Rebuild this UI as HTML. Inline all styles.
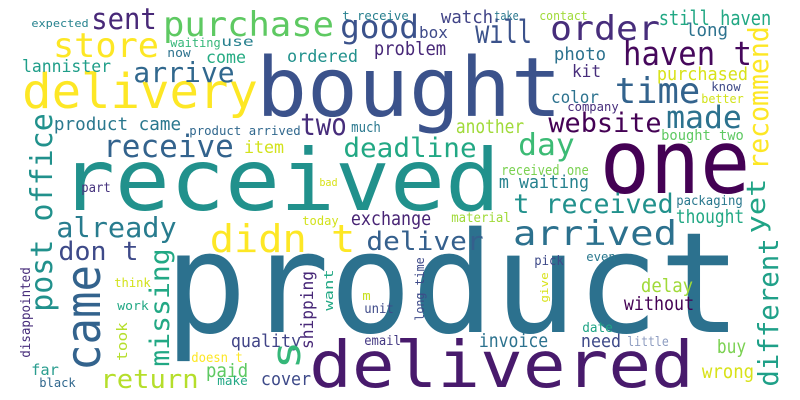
<!DOCTYPE html>
<html><head><meta charset="utf-8"><style>
html,body{margin:0;padding:0;background:#fff;}
svg{display:block;}
text{font-family:"DejaVu Sans Mono","Liberation Mono",monospace;}
</style></head><body>
<svg id="cloud" width="800" height="400" viewBox="0 0 800 400" xmlns="http://www.w3.org/2000/svg">
<rect width="800" height="400" fill="#fff"/>
</svg>
<script>
// horizontal words
const hWords = ["product","received","bought","one","delivered","delivery","purchase","store","sent","expected","waiting","use","now","come","lannister","arrive","product came","product arrived","receive","item","part","t receive","good","box","watch","take","will","problem","ordered","two","much","another","deadline","bad","day","received one","m waiting","contact","order","still haven","long","haven t","photo","kit","purchased","time","know","better","color","company","made","website","bought two","t received","packaging","arrived","thought","pick","even","delay","without","date","need","little","buy","wrong","invoice","material","exchange","deliver","already","don t","didn t","think","work","far","black","return","doesn t","paid","make","cover","quality","today","m","unit","email"];
const hX0 = [173,65,261,605,313,25,165,55,93,32,171,222,168,207,23,135,55,190,105,245,82,343,342,420,442,495,477,375,288,302,352,457,345,320,520,502,500,540,552,660,687,625,555,573,658,617,712,702,552,568,668,550,662,515,677,515,677,535,587,642,625,583,582,628,718,703,480,452,352,368,58,60,212,115,118,32,40,102,192,207,218,262,232,303,363,365,365];
const hX1 = [733,495,557,745,690,255,332,157,155,88,220,253,190,245,110,233,180,300,232,283,110,408,417,447,492,518,530,445,357,345,380,523,475,337,573,588,588,587,658,770,727,750,605,600,747,698,740,743,598,618,740,660,743,672,742,675,743,563,615,692,693,612,620,668,745,753,547,510,430,482,175,137,353,150,148,58,75,197,242,247,247,310,300,338,370,393,400];
const hBase = [332,210,116,193,387,108,36,57,29,27,47,46,57,63,72,82,130,135,157,153,192,20,38,38,23,20,43,55,62,135,132,133,157,186,155,175,188,20,40,25,36,65,60,77,80,103,91,103,103,111,128,132,140,213,205,245,223,265,261,292,310,332,347,346,353,378,347,222,225,250,237,260,252,287,310,375,387,388,362,377,385,385,347,225,300,313,345];
const hSize = [140,86,82,88,64,48,34,34,29,11,12,13,12,17,17,28,18,12,31,17,13,12,32,16,18,12,32,19,17,30,14,19,27,11,30,14,18,12,34,20,18,33,18,17,18,36,12,12,17,12,31,27,14,27,13,34,19,13,12,19,19,13,18,13,19,19,19,13,19,26,28,26,38,12,12,15,12,26,13,19,12,18,18,12,12,13,13];
const hColor = ["#2c718e","#21918c","#3b528b","#440154","#481a6c","#fde725","#5ec962","#fde725","#482878","#26828e","#35b779","#27808e","#2c728e","#25ab82","#1f9e89","#31688e","#2a788e","#31688e","#33638d","#d2e21b","#46337e","#277f8e","#3b528b","#3e4a89","#414487","#2a788e","#3b528b","#482878","#21918c","#472d7b","#2a788e","#a0da39","#22a884","#d8e219","#3cbb75","#7ad151","#26828e","#a0da39","#472d7b","#22a884","#2c728e","#46085c","#2c728e","#472d7b","#d8e219","#33638d","#3e4a89","#d2e21b","#2c728e","#472d7b","#2c728e","#440154","#5ec962","#21918c","#2a788e","#2c718e","#22a884","#3e4a89","#2a788e","#a0da39","#440154","#20a486","#3e4a89","#8d9cc0","#7ad151","#d8e219","#2c728e","#a0da39","#482475","#35608d","#287c8e","#3e4a89","#fde725","#d2e21b","#22a884","#2a9d8f","#31688e","#b5de2b","#fde725","#5ec962","#22a884","#3e4a89","#414487","#d2e21b","#c8e020","#3e4a89","#443983"];
// vertical words (read bottom to top)
const vWords = ["post office","came","disappointed","missing","took","s","shipping","want","long time","give","recommend","yet","different"];
const vBaseX = [52,100,30,169,127,300,313,333,424,548,768,765,778];
const vY0 = [310,368,357,365,360,367,348,310,320,302,168,232,385];
const vY1 = [115,268,268,250,323,343,272,270,258,273,28,180,240];
const vSize = [30,48,13,27,14,40,17,12,12,11,28,26,28];
const vColor = ["#21918c","#33638d","#472d7b","#22a884","#b5de2b","#35b779","#482878","#22a884","#3e4a89","#d8e219","#fde725","#20a486","#1fa088"];

const svg = document.getElementById('cloud');
const NS = 'http://www.w3.org/2000/svg';
function slug(s){return s.replace(/[^a-z0-9]+/gi,'-').toLowerCase();}
for (let i = 0; i < hWords.length; i++) {
  const t = document.createElementNS(NS, 'text');
  const pad = hSize[i] * 0.06;
  t.setAttribute('x', hX0[i] - pad);
  t.setAttribute('y', hBase[i]);
  t.setAttribute('font-size', hSize[i]);
  t.setAttribute('fill', hColor[i]);
  t.setAttribute('textLength', Math.max(1, hX1[i] - hX0[i] + 2 * pad));
  t.setAttribute('lengthAdjust', 'spacingAndGlyphs');
  t.textContent = hWords[i];
  
  
  svg.appendChild(t);
}
for (let i = 0; i < vWords.length; i++) {
  const t = document.createElementNS(NS, 'text');
  const pad = vSize[i] * 0.06;
  const x = vBaseX[i], y = vY0[i] + pad;
  t.setAttribute('x', x);
  t.setAttribute('y', y);
  t.setAttribute('transform', 'rotate(-90 ' + x + ' ' + y + ')');
  t.setAttribute('font-size', vSize[i]);
  t.setAttribute('fill', vColor[i]);
  t.setAttribute('textLength', Math.max(1, vY0[i] - vY1[i] + 2 * pad));
  t.setAttribute('lengthAdjust', 'spacingAndGlyphs');
  t.textContent = vWords[i];
  
  
  svg.appendChild(t);
}
</script>
</body></html>
